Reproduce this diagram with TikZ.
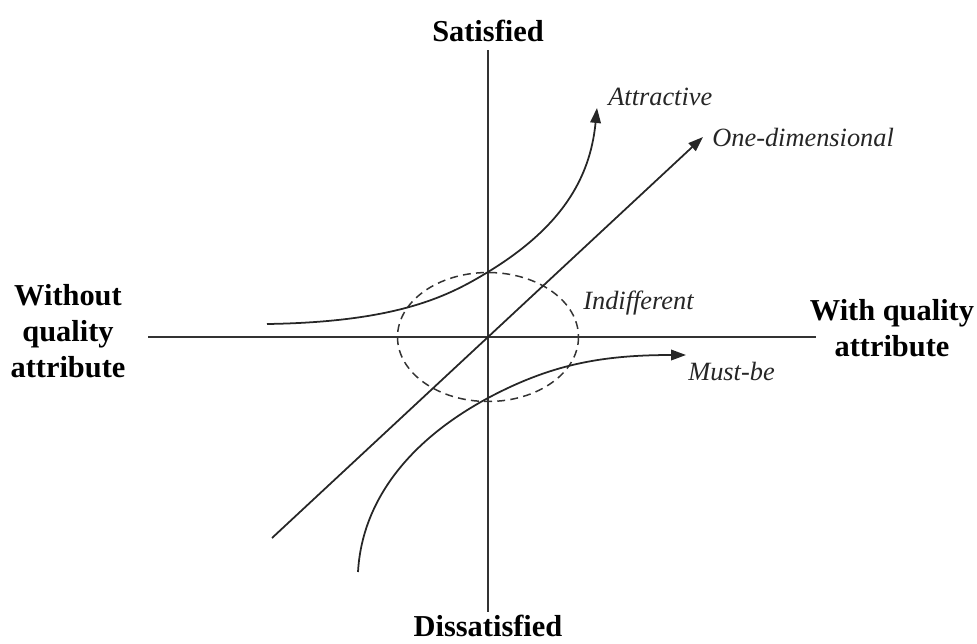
\documentclass[tikz,border=0pt]{standalone}
\usepackage{fontspec}
\setmainfont{Liberation Serif}
\usetikzlibrary{arrows.meta}
\begin{document}
\begin{tikzpicture}[x=0.02cm,y=-0.02cm,
  axisline/.style={line width=0.95pt,draw=black!80},
  curveline/.style={line width=1pt,draw=black!85},
  tip/.style={-{Triangle[length=8.5pt,width=6pt]}},
  biglabel/.style={font=\bfseries\fontsize{17.3}{20.5}\selectfont,align=center,inner sep=0pt},
  curvelabel/.style={font=\itshape\fontsize{15}{18}\selectfont,inner sep=0pt,anchor=west,text=black!85},
  zone/.style={line width=0.85pt,draw=black!80,dash pattern=on 4.5pt off 3pt}]
\useasboundingbox (0,0) rectangle (977,643);
% axis end points
\coordinate (top) at (488,50);
\coordinate (bottom) at (488,612);
\coordinate (left) at (148,337);
\coordinate (right) at (816,337);
\coordinate (O) at (488,337);
\draw[axisline] (top) -- (bottom);
\draw[axisline] (left) -- (right);
% indifferent zone
\draw[zone] (O) ellipse [x radius=90.5, y radius=64.5];
% one-dimensional
\coordinate (od0) at (272,538);
\coordinate (od1) at (703,137);
\draw[curveline,tip] (od0) -- (od1);
% attractive
\coordinate (at0) at (267,324);
\coordinate (atm) at (488,272);
\coordinate (at1) at (597,108);
\draw[curveline,tip] (at0) .. controls (400,322) and (450,295) .. (atm)
  .. controls (560,228) and (590,180) .. (at1);
% must-be
\coordinate (mb0) at (358,572);
\coordinate (mbm) at (488,398);
\coordinate (mb1) at (686,355);
\draw[curveline,tip] (mb0) .. controls (362,500) and (410,440) .. (mbm)
  .. controls (550,365) and (600,355) .. (mb1);
% labels
\node[biglabel] (sat) at (488,31) {Satisfied};
\node[biglabel,anchor=base] (dis) at (488,636) {Dissatisfied};
\node[biglabel] (without) at (68,331) {Without\\quality\\attribute};
\node[biglabel] (with) at (892,328) {With quality\\attribute};
\node[curvelabel] (attr) at (608,97) {Attractive};
\node[curvelabel] (onedim) at (712,137) {One-dimensional};
\node[curvelabel] (indiff) at (583,303) {Indifferent};
\node[curvelabel] (must) at (688,372) {Must-be};
\end{tikzpicture}
\end{document}
